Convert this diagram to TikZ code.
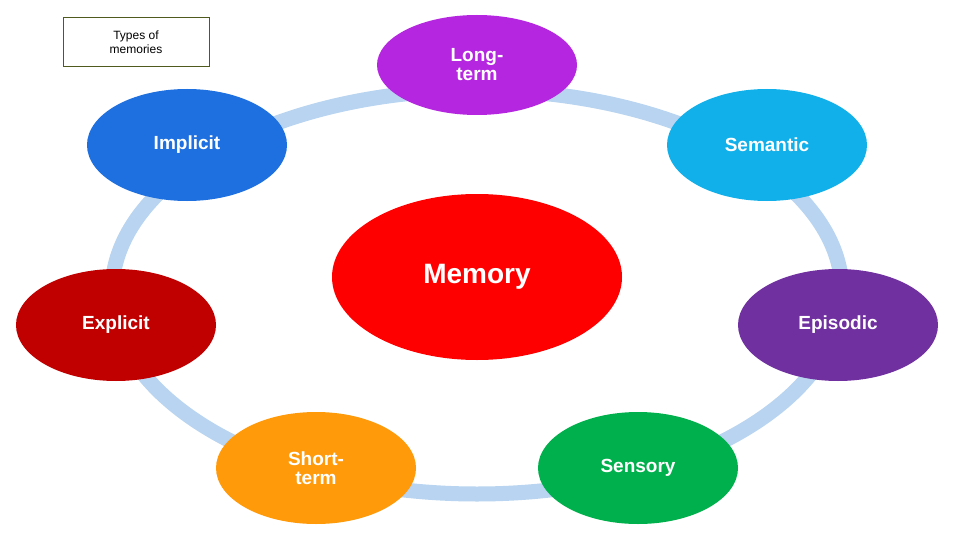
\documentclass[tikz,border=0pt]{standalone}
\usepackage{fontspec}
\setmainfont{Liberation Sans}
\usetikzlibrary{shapes.geometric}
\definecolor{ringc}{HTML}{B8D4F0}
\definecolor{cLong}{HTML}{B526E0}
\definecolor{cSem}{HTML}{12B0EA}
\definecolor{cEpi}{HTML}{7030A0}
\definecolor{cSen}{HTML}{00B04C}
\definecolor{cSho}{HTML}{FF9A0A}
\definecolor{cExp}{HTML}{C00000}
\definecolor{cImp}{HTML}{1E70E0}
\definecolor{cMem}{HTML}{FF0000}
\definecolor{boxc}{HTML}{4F5A1E}
\tikzset{mem/.style={ellipse,minimum width=200pt,minimum height=112pt,inner sep=0pt,
  text=white,font=\bfseries\fontsize{19}{19}\selectfont,align=center}}
\begin{document}
\begin{tikzpicture}[x=1pt,y=-1pt]
\useasboundingbox[fill=white] (0,0) rectangle (960,540);
\draw[ringc,line width=15pt] (477,292) ellipse [x radius=365, y radius=202];
\node[mem,fill=cLong,minimum height=100pt] (long) at (477,65) {Long-\\term};
\node[mem,fill=cSem] (sem) at (767,145) {Semantic};
\node[mem,fill=cEpi] (epi) at (838,325) {Episodic};
\node[mem,fill=cSen] (sen) at (638,468) {Sensory};
\node[mem,fill=cSho] (sho) at (316,468) {Short-\\term};
\node[mem,fill=cExp] (exp) at (116,325) {Explicit};
\node[mem,fill=cImp] (imp) at (187,145) {Implicit};
\node[mem,fill=cMem,minimum width=290pt,minimum height=166pt,font=\bfseries\fontsize{28}{28}\selectfont] (memn) at (477,277) {Memory};
\node[draw=boxc,line width=1pt,minimum width=146pt,minimum height=49pt,align=center,
  font=\fontsize{12}{14}\selectfont,inner sep=0pt] (lbl) at (136,42.5) {Types of\\memories};
\end{tikzpicture}
\end{document}
